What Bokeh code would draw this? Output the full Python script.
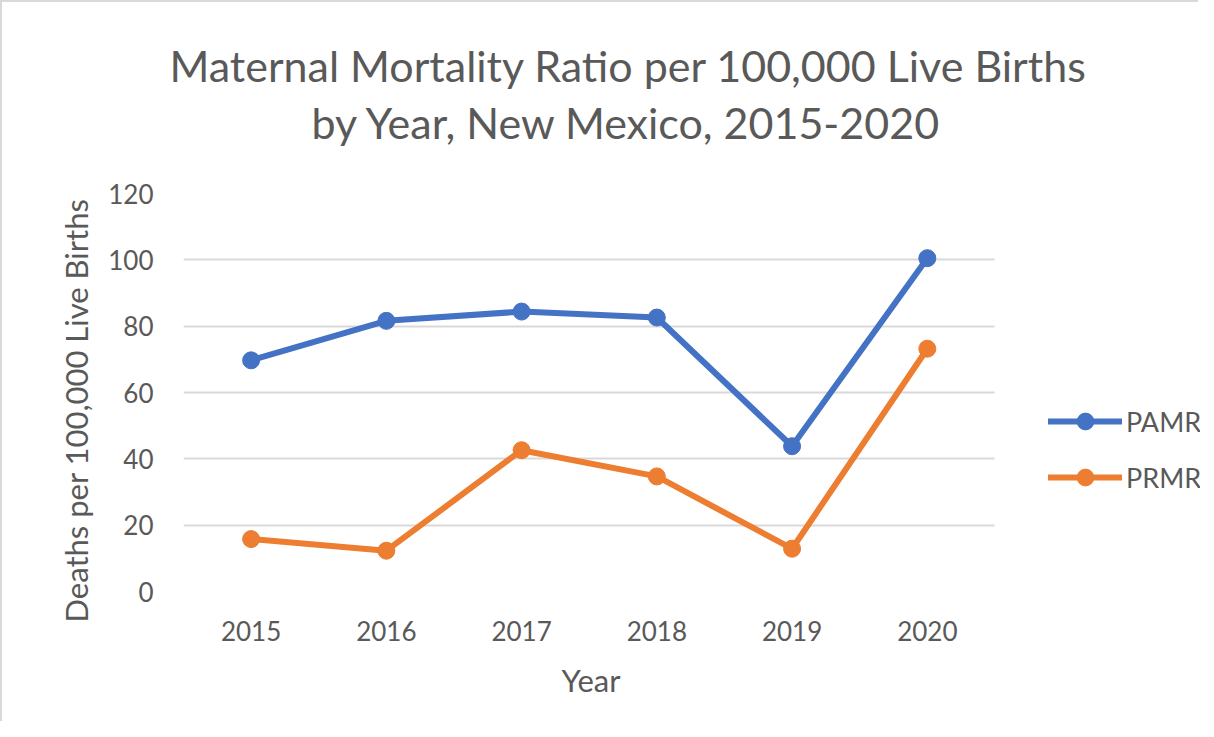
from bokeh.plotting import figure
from bokeh.models import Legend, LegendItem, Title, Range1d, SingleIntervalTicker, FixedTicker
from bokeh.embed import file_html
from bokeh.resources import INLINE

years = ["2015", "2016", "2017", "2018", "2019", "2020"]
pamr = [69.7, 81.6, 84.4, 82.6, 43.8, 100.5]
prmr = [15.8, 12.3, 42.6, 34.7, 12.9, 73.2]

title_1 = "Maternal Mortality Ratio per 100,000 Live Births"
title_2 = "by Year, New Mexico, 2015-2020"
x_label = "Year"
y_label = "Deaths per 100,000 Live Births"

BLUE = "#4472C4"
ORANGE = "#ED7D31"
TXT = "#595959"
GRID = "#D9D9D9"
FONT = "Lato"

# category slot centres (one slot per year)
xs = [i + 0.5 for i in range(len(years))]
n_slots = len(years)

p = figure(
    x_range=Range1d(0, 7.52),
    y_range=Range1d(0, 120),
    width=1198, height=721,
    output_backend="svg", toolbar_location=None,
    min_border_left=181, min_border_right=0,
    min_border_top=191, min_border_bottom=132,
)
p.outline_line_color = None
p.styles = {"border-top": "2px solid #d9d9d9", "border-left": "2px solid #d9d9d9"}

# spacer, then second and first title lines (stacked outward from the frame)
p.add_layout(Title(text=" ", text_font=FONT, text_font_size="35px", standoff=0), "above")
p.add_layout(Title(text=title_2, align="left", offset=128, text_font=FONT, text_font_size="43px",
                   text_font_style="normal", text_color=TXT, standoff=4), "above")
p.add_layout(Title(text=title_1, align="left", offset=-14, text_font=FONT, text_font_size="43px",
                   text_font_style="normal", text_color=TXT, standoff=4), "above")

p.xgrid.grid_line_color = None
p.ygrid.grid_line_color = GRID
p.ygrid.grid_line_width = 2
p.ygrid[0].cross_bounds = (0, n_slots)
p.yaxis.ticker = SingleIntervalTicker(interval=20)
p.xaxis.ticker = FixedTicker(ticks=xs)
p.xaxis.major_label_overrides = {x: y for x, y in zip(xs, years)}

for ax in [p.xaxis[0], p.yaxis[0]]:
    ax.axis_line_color = None
    ax.major_tick_line_color = None
    ax.minor_tick_line_color = None
    ax.major_label_text_font = FONT
    ax.major_label_text_font_size = "26px"
    ax.major_label_text_color = TXT
p.xaxis.major_label_standoff = 23
p.yaxis.major_label_standoff = 24

# axis titles
p.add_layout(Title(text=x_label, align="left", offset=378, text_font=FONT, text_font_size="31px",
                   text_font_style="normal", text_color=TXT, standoff=30), "below")
p.add_layout(Title(text=y_label, align="left", offset=-31, text_font=FONT, text_font_size="31px",
                   text_font_style="normal", text_color=TXT, standoff=22), "left")

r1 = p.line(xs, pamr, line_color=BLUE, line_width=6, line_join="round", line_cap="round")
s1 = p.scatter(xs, pamr, size=17, fill_color=BLUE, line_color=BLUE)
r2 = p.line(xs, prmr, line_color=ORANGE, line_width=6, line_join="round", line_cap="round")
s2 = p.scatter(xs, prmr, size=17, fill_color=ORANGE, line_color=ORANGE)

legend = Legend(
    items=[LegendItem(label="PAMR", renderers=[r1, s1]), LegendItem(label="PRMR", renderers=[r2, s2])],
    location=(865, 93), border_line_color=None, background_fill_alpha=0,
    glyph_width=74, glyph_height=42, label_text_font=FONT, label_text_font_size="27px",
    label_text_color=TXT, spacing=14, label_standoff=4, padding=10, margin=0,
)
p.add_layout(legend, "center")

open("out.html", "w").write(file_html(p, INLINE))
